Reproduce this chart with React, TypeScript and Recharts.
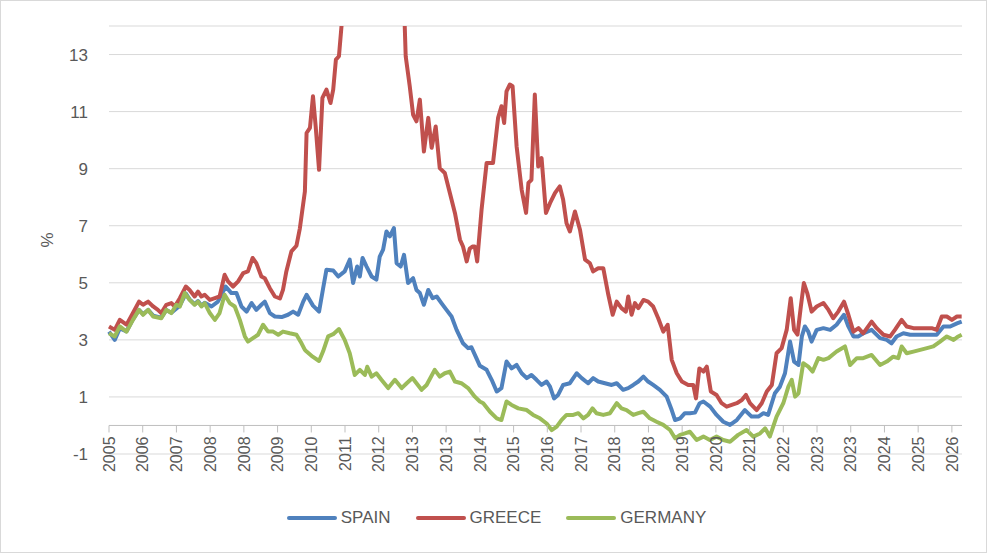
import React from "react"
import { LineChart, Line, XAxis, YAxis, CartesianGrid, ReferenceLine, Legend, Label } from "recharts"

// x positions are in tick-interval units (0 = first "2005" tick)
const YEAR_LABELS = [
  "2005", "2006", "2007", "2008", "2008", "2009", "2010", "2011", "2012", "2013", "2013", "2014", "2015",
  "2016", "2017", "2018", "2018", "2019", "2020", "2021", "2022", "2023", "2023", "2024", "2025", "2026",
]
const Y_TICKS = [-1, 1, 3, 5, 7, 9, 11, 13]

const SPAIN: [number, number][] = [
  [0, 3.29], [0.17, 3.0], [0.32, 3.4], [0.52, 3.3], [0.71, 3.72], [0.89, 4.05], [1.01, 3.9], [1.16, 4.05],
  [1.31, 3.85], [1.55, 3.78], [1.7, 4.05], [1.85, 3.95], [2.1, 4.2], [2.28, 4.62], [2.39, 4.42], [2.54, 4.25],
  [2.64, 4.36], [2.74, 4.2], [2.84, 4.3], [3.04, 4.17], [3.23, 4.34], [3.46, 4.87], [3.63, 4.64], [3.78, 4.64],
  [3.93, 4.17], [4.08, 3.99], [4.23, 4.29], [4.37, 4.05], [4.52, 4.23], [4.62, 4.34], [4.77, 3.94], [4.92, 3.82],
  [5.12, 3.8], [5.31, 3.88], [5.46, 3.99], [5.61, 3.88], [5.76, 4.34], [5.86, 4.58], [6.05, 4.2], [6.23, 3.99],
  [6.35, 4.8], [6.45, 5.46], [6.65, 5.43], [6.8, 5.22], [6.99, 5.4], [7.14, 5.81], [7.24, 4.99], [7.36, 5.57],
  [7.44, 5.22], [7.52, 5.87], [7.64, 5.57], [7.79, 5.22], [7.93, 5.11], [8.03, 5.92], [8.13, 6.16], [8.23, 6.8],
  [8.33, 6.63], [8.45, 6.92], [8.53, 5.69], [8.65, 5.57], [8.75, 5.98], [8.87, 4.99], [9.02, 5.16], [9.12, 4.75],
  [9.22, 4.64], [9.34, 4.23], [9.47, 4.75], [9.6, 4.46], [9.72, 4.52], [9.86, 4.29], [10.01, 4.05], [10.16, 3.82],
  [10.31, 3.35], [10.5, 2.88], [10.65, 2.71], [10.75, 2.74], [10.9, 2.35], [11.0, 2.09], [11.2, 1.95], [11.35, 1.6],
  [11.5, 1.19], [11.64, 1.31], [11.79, 2.24], [11.94, 2.0], [12.09, 2.12], [12.24, 1.83], [12.39, 1.66], [12.53, 1.77],
  [12.68, 1.6], [12.83, 1.42], [12.98, 1.54], [13.08, 1.36], [13.2, 0.95], [13.32, 1.07], [13.47, 1.42], [13.67, 1.48],
  [13.87, 1.83], [14.02, 1.66], [14.21, 1.48], [14.36, 1.66], [14.51, 1.54], [14.71, 1.48], [14.91, 1.42], [15.06, 1.48],
  [15.25, 1.25], [15.4, 1.31], [15.55, 1.42], [15.7, 1.54], [15.85, 1.71], [15.99, 1.54], [16.14, 1.42], [16.34, 1.25],
  [16.54, 1.01], [16.69, 0.54], [16.79, 0.19], [16.94, 0.25], [17.08, 0.43], [17.23, 0.43], [17.38, 0.45], [17.52, 0.78],
  [17.63, 0.84], [17.83, 0.66], [18.02, 0.37], [18.22, 0.13], [18.42, 0.02], [18.62, 0.19], [18.86, 0.54], [19.06, 0.31],
  [19.26, 0.31], [19.41, 0.43], [19.55, 0.37], [19.75, 1.13], [19.9, 1.36], [20.05, 1.83], [20.2, 2.94], [20.32, 2.24],
  [20.45, 2.12], [20.55, 3.12], [20.64, 3.47], [20.74, 3.29], [20.84, 2.94], [20.99, 3.35], [21.19, 3.41], [21.39, 3.35],
  [21.58, 3.53], [21.8, 3.88], [21.93, 3.47], [22.08, 3.12], [22.23, 3.12], [22.37, 3.23], [22.62, 3.35], [22.87, 3.06],
  [23.07, 3.0], [23.21, 2.88], [23.36, 3.12], [23.56, 3.23], [23.76, 3.18], [24.01, 3.18], [24.26, 3.18], [24.55, 3.18],
  [24.75, 3.47], [24.95, 3.47], [25.15, 3.58], [25.29, 3.64],
]

const GREECE: [number, number][] = [
  [0, 3.47], [0.17, 3.35], [0.32, 3.7], [0.52, 3.53], [0.71, 3.94], [0.89, 4.34], [1.01, 4.23], [1.16, 4.34],
  [1.31, 4.17], [1.45, 4.05], [1.55, 3.94], [1.7, 4.23], [1.85, 4.29], [1.95, 4.17], [2.1, 4.46], [2.28, 4.87],
  [2.39, 4.75], [2.54, 4.52], [2.64, 4.69], [2.74, 4.52], [2.84, 4.58], [2.99, 4.4], [3.14, 4.46], [3.28, 4.52],
  [3.43, 5.28], [3.53, 5.05], [3.68, 4.87], [3.83, 5.05], [3.98, 5.34], [4.12, 5.4], [4.26, 5.87], [4.37, 5.69],
  [4.52, 5.22], [4.62, 5.16], [4.77, 4.81], [4.92, 4.52], [5.07, 4.45], [5.16, 4.75], [5.26, 5.4], [5.41, 6.1],
  [5.56, 6.3], [5.66, 6.9], [5.81, 8.2], [5.86, 10.25], [5.96, 10.43], [6.05, 11.54], [6.13, 10.48], [6.23, 8.96],
  [6.33, 11.48], [6.45, 11.77], [6.57, 11.3], [6.65, 11.77], [6.73, 12.82], [6.82, 12.94], [6.9, 14.05], [6.99, 16],
  [7.29, 20], [7.58, 26], [7.8, 33], [7.97, 28], [8.18, 24], [8.39, 21], [8.57, 18], [8.72, 15.5],
  [8.77, 14.05], [8.8, 12.94], [8.92, 11.89], [9.02, 10.89], [9.12, 10.66], [9.22, 11.42], [9.34, 9.6], [9.47, 10.78],
  [9.57, 9.73], [9.69, 10.48], [9.81, 9.02], [9.96, 8.85], [10.11, 8.15], [10.26, 7.45], [10.41, 6.51], [10.5, 6.27],
  [10.61, 5.75], [10.7, 6.2], [10.78, 6.27], [10.85, 6.27], [10.92, 5.75], [11.05, 7.56], [11.2, 9.2], [11.39, 9.2],
  [11.54, 10.78], [11.64, 11.19], [11.72, 10.6], [11.79, 11.71], [11.89, 11.95], [11.97, 11.89], [12.09, 9.78], [12.24, 8.26],
  [12.37, 7.45], [12.44, 8.5], [12.53, 8.61], [12.63, 11.6], [12.73, 9.08], [12.83, 9.37], [12.96, 7.45], [13.08, 7.79],
  [13.23, 8.15], [13.37, 8.38], [13.47, 7.91], [13.57, 7.09], [13.67, 6.8], [13.82, 7.5], [13.97, 6.86], [14.12, 5.81],
  [14.26, 5.69], [14.36, 5.4], [14.51, 5.51], [14.66, 5.51], [14.81, 4.58], [14.94, 3.88], [15.06, 4.34], [15.2, 4.11],
  [15.33, 3.99], [15.4, 4.52], [15.5, 3.88], [15.6, 4.29], [15.7, 4.11], [15.85, 4.4], [15.99, 4.34], [16.14, 4.17],
  [16.29, 3.76], [16.44, 3.29], [16.57, 3.53], [16.69, 2.3], [16.84, 1.83], [16.99, 1.54], [17.18, 1.42], [17.33, 1.42],
  [17.41, 0.95], [17.51, 2.0], [17.63, 1.89], [17.73, 2.06], [17.85, 1.19], [18.02, 1.07], [18.17, 0.78], [18.32, 0.66],
  [18.47, 0.72], [18.62, 0.78], [18.77, 0.89], [18.89, 1.07], [19.01, 0.78], [19.21, 0.54], [19.36, 0.78], [19.51, 1.19],
  [19.66, 1.42], [19.8, 2.53], [19.95, 2.71], [20.1, 3.35], [20.22, 4.46], [20.32, 3.35], [20.42, 3.18], [20.52, 4.17],
  [20.61, 4.99], [20.71, 4.64], [20.84, 3.99], [20.99, 4.17], [21.19, 4.29], [21.34, 4.05], [21.48, 3.76], [21.63, 3.99],
  [21.8, 4.34], [21.93, 3.88], [22.08, 3.29], [22.23, 3.41], [22.37, 3.23], [22.62, 3.64], [22.77, 3.41], [22.97, 3.18],
  [23.17, 3.12], [23.31, 3.35], [23.51, 3.7], [23.66, 3.47], [23.86, 3.41], [24.06, 3.41], [24.26, 3.41], [24.4, 3.41],
  [24.55, 3.35], [24.7, 3.82], [24.85, 3.82], [25.0, 3.7], [25.15, 3.82], [25.29, 3.82],
]

const GERMANY: [number, number][] = [
  [0, 3.23], [0.17, 3.12], [0.32, 3.47], [0.52, 3.29], [0.71, 3.7], [0.89, 4.05], [1.01, 3.88], [1.16, 4.05],
  [1.31, 3.82], [1.55, 3.76], [1.7, 4.05], [1.85, 3.94], [2.0, 4.23], [2.1, 4.17], [2.25, 4.64], [2.39, 4.4],
  [2.54, 4.23], [2.64, 4.34], [2.74, 4.17], [2.84, 4.29], [2.99, 3.94], [3.14, 3.7], [3.28, 3.94], [3.43, 4.58],
  [3.58, 4.29], [3.73, 4.17], [3.88, 3.7], [4.03, 3.12], [4.12, 2.94], [4.27, 3.06], [4.42, 3.18], [4.57, 3.53],
  [4.72, 3.29], [4.87, 3.29], [5.02, 3.18], [5.16, 3.29], [5.36, 3.23], [5.56, 3.18], [5.71, 2.88], [5.81, 2.65],
  [5.86, 2.59], [6.04, 2.41], [6.23, 2.26], [6.35, 2.6], [6.5, 3.12], [6.65, 3.2], [6.82, 3.38], [6.99, 3.0],
  [7.14, 2.53], [7.29, 1.77], [7.44, 1.95], [7.59, 1.77], [7.66, 2.06], [7.79, 1.71], [7.93, 1.83], [8.08, 1.6],
  [8.28, 1.31], [8.48, 1.6], [8.68, 1.31], [8.83, 1.48], [9.0, 1.66], [9.12, 1.48], [9.27, 1.25], [9.42, 1.42],
  [9.66, 1.95], [9.81, 1.71], [9.96, 1.83], [10.11, 1.89], [10.26, 1.54], [10.45, 1.48], [10.65, 1.31], [10.85, 1.01],
  [11.0, 0.84], [11.1, 0.78], [11.3, 0.48], [11.5, 0.25], [11.64, 0.19], [11.79, 0.84], [11.94, 0.72], [12.14, 0.6],
  [12.39, 0.54], [12.58, 0.37], [12.78, 0.25], [12.98, 0.07], [13.13, -0.16], [13.28, -0.04], [13.42, 0.19], [13.57, 0.37],
  [13.77, 0.37], [13.92, 0.43], [14.07, 0.25], [14.21, 0.37], [14.34, 0.6], [14.46, 0.43], [14.66, 0.37], [14.86, 0.43],
  [15.06, 0.78], [15.2, 0.6], [15.35, 0.54], [15.55, 0.37], [15.7, 0.43], [15.85, 0.48], [16.04, 0.25], [16.24, 0.13],
  [16.44, 0.02], [16.64, -0.16], [16.79, -0.45], [16.94, -0.33], [17.08, -0.28], [17.23, -0.22], [17.43, -0.51], [17.63, -0.39],
  [17.82, -0.51], [18.02, -0.39], [18.22, -0.51], [18.42, -0.57], [18.66, -0.33], [18.91, -0.16], [19.11, -0.39], [19.31, -0.28],
  [19.46, -0.1], [19.6, -0.39], [19.8, 0.31], [20.0, 0.78], [20.15, 1.36], [20.25, 1.6], [20.35, 1.01], [20.45, 1.13],
  [20.59, 2.18], [20.74, 2.06], [20.87, 1.89], [21.04, 2.36], [21.19, 2.3], [21.34, 2.36], [21.58, 2.59], [21.83, 2.77],
  [21.98, 2.12], [22.18, 2.36], [22.37, 2.36], [22.62, 2.47], [22.87, 2.12], [23.07, 2.24], [23.26, 2.41], [23.41, 2.36],
  [23.51, 2.77], [23.66, 2.53], [23.86, 2.59], [24.06, 2.65], [24.26, 2.71], [24.45, 2.77], [24.65, 2.94], [24.85, 3.12],
  [25.05, 3.0], [25.19, 3.12], [25.29, 3.18],
]

const SERIES = [
  { name: "SPAIN", color: "#4f81bd", points: SPAIN },
  { name: "GREECE", color: "#c0504d", points: GREECE },
  { name: "GERMANY", color: "#9bbb59", points: GERMANY },
]

const W = 988
const H = 554
const MARGIN = { top: 26, right: 26, bottom: 24, left: 0 }
const X_AXIS_H = 52
const LEGEND_H = 24
const PLOT_H = H - MARGIN.top - MARGIN.bottom - LEGEND_H - X_AXIS_H
const Y_MIN = -1
const Y_MAX = 14
// the category axis crosses at 0, not at the bottom of the plot
const ZERO_LIFT = (PLOT_H * (0 - Y_MIN)) / (Y_MAX - Y_MIN)
const TEXT = "#595959"
const AXIS = "#bfbfbf"

const YearTick = ({ x, y, payload }: any) => {
  const ay = y - ZERO_LIFT
  const ty = ay + 11
  return (
    <g>
      <line x1={x} y1={ay} x2={x} y2={ay + 7} stroke={AXIS} />
      <text x={x} y={ty} transform={`rotate(-90 ${x} ${ty})`} textAnchor="end" dy="0.36em" fill={TEXT} fontSize={16}>
        {YEAR_LABELS[payload.value]}
      </text>
    </g>
  )
}

const LegendRow = () => (
  <div style={{ display: "flex", justifyContent: "center", alignItems: "center", height: LEGEND_H, paddingLeft: 30 }}>
    {SERIES.map((s) => (
      <div key={s.name} style={{ display: "flex", alignItems: "center", marginRight: 25 }}>
        <svg width={50} height={6}>
          <line x1={2} y1={3} x2={48} y2={3} stroke={s.color} strokeWidth={4} strokeLinecap="round" />
        </svg>
        <span style={{ marginLeft: 4, fontSize: 17, color: TEXT }}>{s.name}</span>
      </div>
    ))}
  </div>
)

export default function App() {
  return (
    <div style={{ position: "absolute", left: 0, top: 0, width: W, height: H, background: "#fff", fontFamily: "'Liberation Sans', Arial, sans-serif" }}>
      <LineChart width={W} height={H} margin={MARGIN}>
        <CartesianGrid vertical={false} stroke="#d9d9d9" />
        <XAxis
          dataKey="t"
          type="number"
          domain={[0, 25.3]}
          ticks={YEAR_LABELS.map((_, i) => i)}
          interval={0}
          axisLine={false}
          tickLine={false}
          tickSize={0}
          tickMargin={0}
          height={X_AXIS_H}
          tick={<YearTick />}
        />
        <YAxis
          type="number"
          domain={[Y_MIN, Y_MAX]}
          ticks={Y_TICKS}
          allowDataOverflow
          axisLine={false}
          tickLine={false}
          tickMargin={15}
          width={109}
          tick={{ fill: TEXT, fontSize: 17 }}
        >
          <Label
            content={({ viewBox }: any) => {
              const cx = viewBox.x + 47
              const cy = viewBox.y + viewBox.height / 2
              return (
                <text x={cx} y={cy} transform={`rotate(-90 ${cx} ${cy})`} textAnchor="middle" dy="0.36em" fill={TEXT} fontSize={17}>
                  %
                </text>
              )
            }}
          />
        </YAxis>
        <ReferenceLine y={0} stroke={AXIS} />
        {SERIES.map((s) => (
          <Line
            key={s.name}
            name={s.name}
            data={s.points.map(([t, v]) => ({ t, v }))}
            dataKey="v"
            type="linear"
            stroke={s.color}
            strokeWidth={4}
            strokeLinejoin="round"
            dot={false}
            activeDot={false}
            isAnimationActive={false}
          />
        ))}
        <Legend verticalAlign="bottom" height={LEGEND_H} wrapperStyle={{ left: 0, width: W }} content={<LegendRow />} />
      </LineChart>
      <div style={{ position: "absolute", left: 0, top: 0, width: W - 1, height: H - 1, border: "1px solid #d9d9d9", boxSizing: "border-box", pointerEvents: "none" }} />
    </div>
  )
}
